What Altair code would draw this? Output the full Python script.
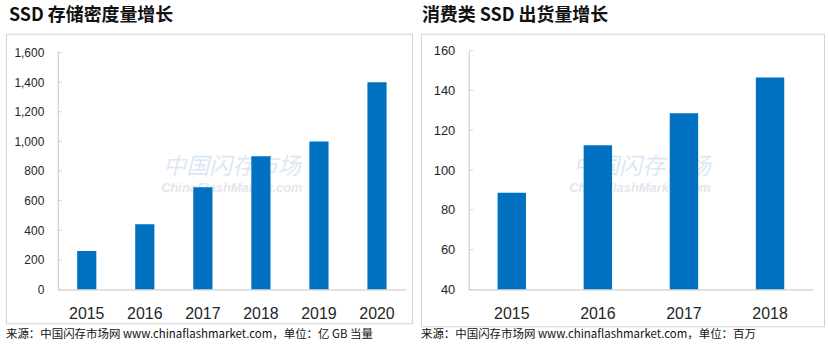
import altair as alt
import pandas as pd

# ---- data ----
years_density = ["2015", "2016", "2017", "2018", "2019", "2020"]
density_values = [260, 440, 690, 900, 1000, 1400]
density_ticks = [0, 200, 400, 600, 800, 1000, 1200, 1400, 1600]

years_shipment = ["2015", "2016", "2017", "2018"]
shipment_values = [88.6, 112.5, 128.5, 146.5]
shipment_ticks = [40, 60, 80, 100, 120, 140, 160]

title_left = "SSD 存储密度量增长"
title_right = "消费类 SSD 出货量增长"
source_left = "来源：中国闪存市场网 www.chinaflashmarket.com，单位：亿 GB 当量"
source_right = "来源：中国闪存市场网 www.chinaflashmarket.com，单位：百万"
watermark_cn = "中国闪存市场"
watermark_en = "ChinaFlashMarket.com"

BLUE = "#0070C0"
CJK = "Noto Sans CJK SC"
LAT = "Liberation Sans"
AXIS_GREY = "#c4c4c4"


def one():
    return alt.Data(values=[{"k": 1}])


def panel(years, values, ticks, ymin, ymax, fmt, ylab_size,
          ox, oy, pw, ph, panel_w, panel_h, box, title_xy, source_xy,
          wm_cn_xy, wm_en_xy, title, source):
    df = pd.DataFrame({"year": years, "value": values})
    tdf = pd.DataFrame({"value": ticks})

    x = alt.X("year:N", sort=None,
              scale=alt.Scale(paddingInner=0.67, paddingOuter=0.335),
              axis=alt.Axis(title=None, labelFont=LAT, labelFontSize=16,
                            labelColor="#262626", labelPadding=16, ticks=False,
                            labelAngle=0, domainColor=AXIS_GREY, domainWidth=1,
                            zindex=1))
    y = alt.Y("value:Q",
              scale=alt.Scale(domain=[ymin, ymax], zero=False, nice=False),
              axis=alt.Axis(title=None, values=ticks, format=fmt, labelFont=LAT,
                            labelFontSize=ylab_size, labelColor="#262626",
                            labelPadding=14, ticks=False, grid=False,
                            domainColor=AXIS_GREY, domainWidth=1, zindex=1))

    bg = alt.Chart(one()).mark_rect(fill="white", strokeWidth=0).encode(
        x=alt.value(-ox), x2=alt.value(panel_w - ox),
        y=alt.value(-oy), y2=alt.value(panel_h - oy))
    frame = alt.Chart(one()).mark_rect(fillOpacity=0, stroke="#d2d2d2", strokeWidth=1).encode(
        x=alt.value(box[0] - ox + 0.5), x2=alt.value(box[1] - ox + 0.5),
        y=alt.value(box[2] - oy + 0.5), y2=alt.value(box[3] - oy + 0.5))
    wm1 = alt.Chart(one()).mark_text(
        text=watermark_cn, font=CJK, fontSize=23, fontStyle="italic",
        color="#dbe8f4", align="center", baseline="middle").encode(
        x=alt.value(wm_cn_xy[0] - ox), y=alt.value(wm_cn_xy[1] - oy))
    wm2 = alt.Chart(one()).mark_text(
        text=watermark_en, font=LAT, fontSize=13, fontStyle="italic",
        fontWeight="bold", color="#e2e7ed", align="center", baseline="middle").encode(
        x=alt.value(wm_en_xy[0] - ox), y=alt.value(wm_en_xy[1] - oy))
    bars = alt.Chart(df).mark_bar(color=BLUE).encode(
        x=x, y=y, y2=alt.Y2Datum(ymin))
    tickrules = alt.Chart(tdf).mark_rule(color="#d6d6d6", strokeWidth=1).encode(
        y=y, x=alt.value(0.5), x2=alt.value(4.5))
    ttl = alt.Chart(one()).mark_text(
        text=title, font=CJK, fontSize=18, fontWeight="bold", color="#111111",
        align="left", baseline="middle").encode(
        x=alt.value(title_xy[0] - ox), y=alt.value(title_xy[1] - oy))
    src = alt.Chart(one()).mark_text(
        text=source, font=CJK, fontSize=11.5, color="#111111",
        align="left", baseline="middle").encode(
        x=alt.value(source_xy[0] - ox), y=alt.value(source_xy[1] - oy))

    return alt.layer(bg, frame, wm1, wm2, bars, tickrules, ttl, src).properties(
        width=pw, height=ph)


# both plot areas start at y=49 so that their origins line up in the row
left = panel(years_density, density_values, density_ticks, 0, 1600 * 240 / 238, ",.0f", 12,
             ox=57, oy=49, pw=350, ph=240, panel_w=414, panel_h=348,
             box=(5, 413, 32, 323), title_xy=(8, 14), source_xy=(5, 335),
             wm_cn_xy=(232, 166), wm_en_xy=(232, 187),
             title=title_left, source=source_left)

right = panel(years_shipment, shipment_values, shipment_ticks, 40, 160, "d", 13,
              ox=54, oy=49, pw=346, ph=240, panel_w=414, panel_h=348,
              box=(6, 411, 32, 326), title_xy=(7, 14), source_xy=(6, 335),
              wm_cn_xy=(228, 166), wm_en_xy=(226, 187),
              title=title_right, source=source_right)

chart = alt.hconcat(left, right, spacing=0, padding=0, background="white").configure_view(
    stroke="transparent")

chart.save("out.html", embed_options={"renderer": "svg", "actions": False})
